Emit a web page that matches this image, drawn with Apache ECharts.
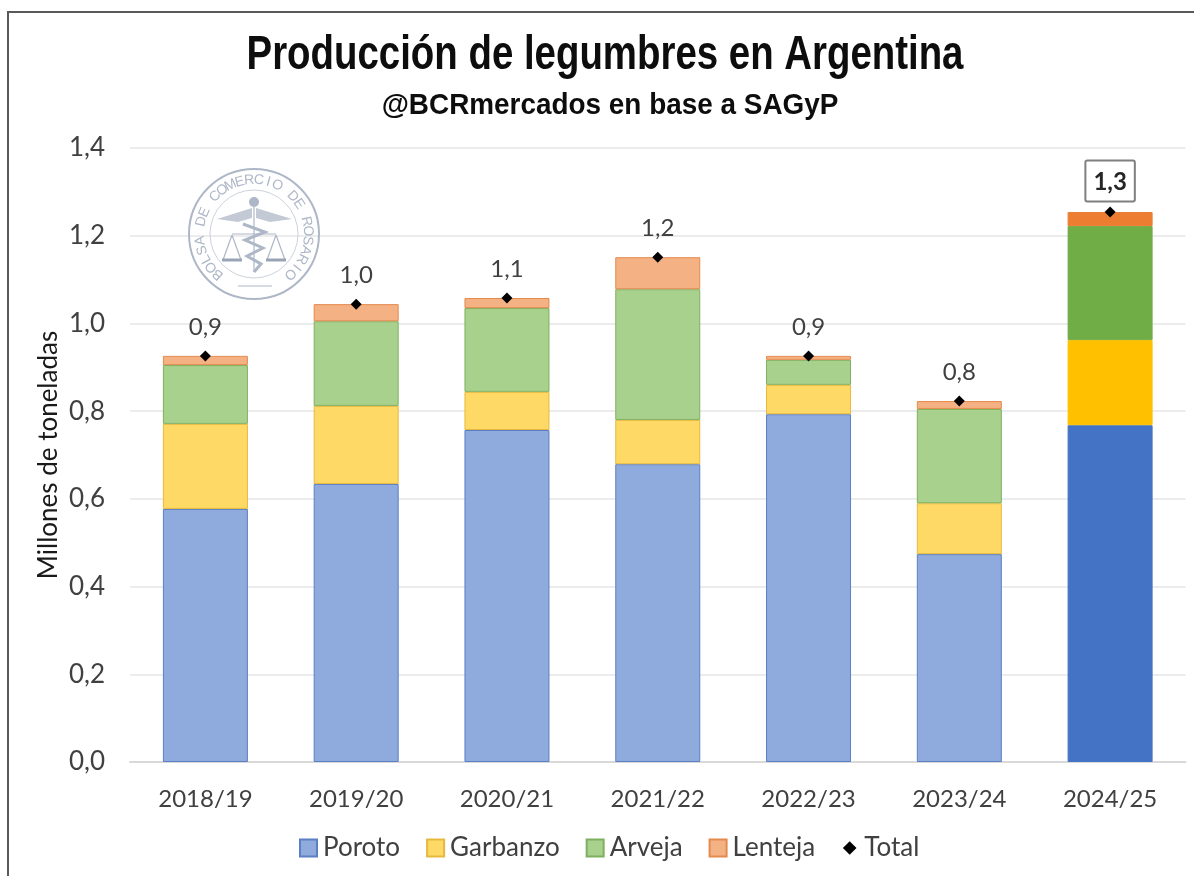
<!DOCTYPE html>
<html>
<head>
<meta charset="utf-8">
<title>Producción de legumbres en Argentina</title>
<style>
html,body{margin:0;padding:0;background:#fff;}
#main{width:1194px;height:876px;}
</style>
<script src="https://cdn.jsdelivr.net/npm/echarts@6/dist/echarts.min.js"></script>
</head>
<body>
<div id="main"></div>
<script>
var campanias = ['2018/19','2019/20','2020/21','2021/22','2022/23','2023/24','2024/25'];
var poroto   = [0.577,0.634,0.757,0.679,0.793,0.474,0.768];
var garbanzo = [0.194,0.178,0.087,0.101,0.067,0.116,0.194];
var arveja   = [0.134,0.193,0.191,0.298,0.057,0.215,0.260];
var lenteja  = [0.021,0.039,0.023,0.073,0.009,0.018,0.032];
var total    = [0.926,1.044,1.058,1.151,0.926,0.823,1.254];
var ticksY   = ['0,0','0,2','0,4','0,6','0,8','1,0','1,2','1,4'];

var fuente = 'Lato, "Open Sans", sans-serif';
var fuenteTitulo = '"Liberation Sans", sans-serif';

//la ultima campaña va con el color lleno
function barra(nombre, datos, claro, borde, lleno){
	return {
		name: nombre,
		type: 'bar',
		stack: 'prod',
		barWidth: 85,
		data: datos.map(function(v, i){
			if(i == datos.length - 1){
				return {value: v, itemStyle: {color: lleno, borderColor: lleno}};
			}
			return v;
		}),
		itemStyle: {color: claro, borderColor: borde, borderWidth: 1}
	};
}

//sello de la bolsa, va de marca de agua
function sello(){
	var cx = 254, cy = 234, out = [];
	var gris = '#aeb7c7';
	var frase = 'BOLSA DE COMERCIO DE ROSARIO';
	out.push({type:'circle', z:1, silent:true, shape:{cx:cx, cy:cy, r:65}, style:{fill:'none', stroke:gris, lineWidth:2}});
	out.push({type:'circle', z:1, silent:true, shape:{cx:cx, cy:cy, r:44}, style:{fill:'none', stroke:'#ccd2dc', lineWidth:1}});
	for(var i = 0; i < frase.length; i++){
		var ang = (-138 + i * 276 / (frase.length - 1)) * Math.PI / 180;
		out.push({
			type:'text', z:1, silent:true,
			x: cx + 54 * Math.sin(ang), y: cy - 54 * Math.cos(ang),
			rotation: -ang,
			style:{text:frase[i], fill:gris, font:'14px "Liberation Sans", sans-serif', align:'center', verticalAlign:'middle'}
		});
	}
	//alas
	[[[252,208],[217,219],[238,222],[252,218]], [[256,208],[292,219],[270,222],[256,218]]].forEach(function(p){
		out.push({type:'polygon', z:1, silent:true, shape:{points:p}, style:{fill:'#c3cad6'}});
	});
	//balanzas
	var lin = [
		[[232,234],[276,234]], [[254,207],[254,272]],
		[[232,235],[223,260]], [[232,235],[241,260]], [[276,235],[267,260]], [[276,235],[285,260]],
		[[238,286],[272,286]]
	];
	lin.forEach(function(l){
		out.push({type:'line', z:1, silent:true, shape:{x1:l[0][0], y1:l[0][1], x2:l[1][0], y2:l[1][1]}, style:{stroke:gris, lineWidth:1.2}});
	});
	[[222,242],[266,286]].forEach(function(a){
		out.push({type:'line', z:1, silent:true, shape:{x1:a[0], y1:260, x2:a[1], y2:260}, style:{stroke:'#98a3b6', lineWidth:3}});
	});
	out.push({type:'polyline', z:1, silent:true, shape:{points:[[243,224],[265,232],[245,240],[263,248],[247,256],[261,264],[254,272]]}, style:{fill:'none', stroke:gris, lineWidth:3}});
	out.push({type:'circle', z:1, silent:true, shape:{cx:254, cy:202, r:5}, style:{fill:gris}});
	return out;
}

var myChart = echarts.init(document.getElementById('main'));
myChart.setOption({
	animation: false,
	backgroundColor: '#fff',
	grid: {left: 130, right: 8.5, top: 148, bottom: 114},
	legend: {
		left: 299, top: 835, padding: 0,
		itemWidth: 17, itemHeight: 17, itemGap: 26,
		textStyle: {fontFamily: fuente, fontSize: 26, color: '#404040', padding: [0,0,0,1]},
		data: [
			{name: 'Poroto', icon: 'rect'},
			{name: 'Garbanzo', icon: 'rect'},
			{name: 'Arveja', icon: 'rect'},
			{name: 'Lenteja', icon: 'rect'},
			{name: 'Total'}
		]
	},
	xAxis: {
		type: 'category',
		data: campanias,
		axisTick: {show: false},
		axisLine: {lineStyle: {color: '#d9d9d9', width: 2}},
		axisLabel: {fontFamily: fuente, fontSize: 24, color: '#404040', margin: 25}
	},
	yAxis: {
		type: 'value',
		min: 0, max: 1.4, interval: 0.2,
		name: 'Millones de toneladas',
		nameLocation: 'middle',
		nameGap: 68,
		nameMoveOverlap: false,
		nameTextStyle: {fontFamily: fuente, fontSize: 26, color: '#1a1a1a'},
		axisLine: {show: false},
		axisTick: {show: false},
		splitLine: {lineStyle: {color: '#ececec', width: 2}},
		axisLabel: {
			fontFamily: fuente, fontSize: 26, color: '#404040', margin: 25,
			formatter: function(v){ return ticksY[Math.round(v / 0.2)]; }
		}
	},
	series: [
		barra('Poroto', poroto, '#8FAADC', '#5B7FC4', '#4472C4'),
		barra('Garbanzo', garbanzo, '#FFD966', '#E6B93C', '#FFC000'),
		barra('Arveja', arveja, '#A9D18E', '#7FB05E', '#70AD47'),
		barra('Lenteja', lenteja, '#F4B183', '#E58A4E', '#ED7D31'),
		{
			name: 'Total',
			type: 'line',
			data: total.map(function(v, i){
				if(i == total.length - 1){
					return {value: v, label: {
						fontWeight: 'bold', color: '#262626', distance: 6,
						backgroundColor: '#fff', borderColor: '#7f7f7f', borderWidth: 2, borderRadius: 1,
						padding: [9,7,6,7]
					}};
				}
				return v;
			}),
			lineStyle: {width: 0, opacity: 0},
			symbol: 'diamond',
			symbolSize: 11,
			itemStyle: {color: '#000'},
			z: 5,
			label: {
				show: true, position: 'top', distance: 11,
				fontFamily: fuente, fontSize: 24, color: '#404040',
				formatter: function(p){ return p.value.toFixed(1).replace('.', ','); }
			}
		}
	],
	graphic: [{
		type: 'rect', z: 0, silent: true,
		shape: {x: 8, y: 12, width: 1200, height: 900},
		style: {fill: 'none', stroke: '#595959', lineWidth: 2}
	}, {
		type: 'text', z: 2, x: 605, y: 56, scaleX: 0.8,
		style: {text: 'Producción de legumbres en Argentina', font: 'bold 48px ' + fuenteTitulo, fill: '#0d0d0d', align: 'center', verticalAlign: 'middle'}
	}, {
		type: 'text', z: 2, x: 610, y: 106, scaleX: 0.93,
		style: {text: '@BCRmercados en base a SAGyP', font: 'bold 30px ' + fuenteTitulo, fill: '#0d0d0d', align: 'center', verticalAlign: 'middle'}
	}].concat(sello())
});
</script>
</body>
</html>
